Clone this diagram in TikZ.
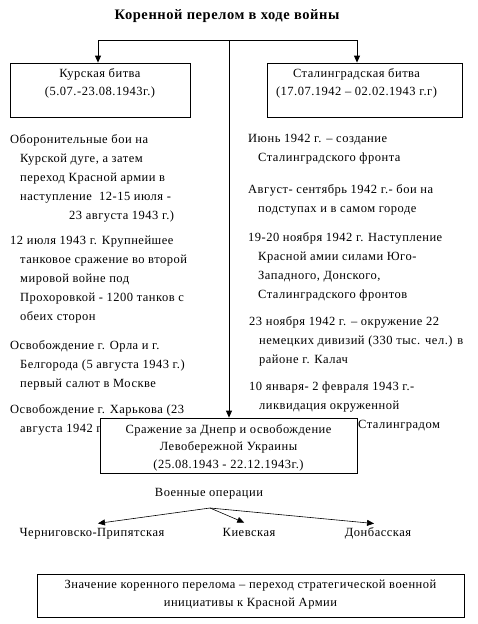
\documentclass[tikz,border=0pt]{standalone}
\usepackage{fontspec}
\setmainfont{Liberation Serif}[LetterSpace=4]
\usetikzlibrary{arrows.meta, positioning}

\newcommand{\ind}{\hspace*{10pt}}

\tikzset{
  box/.style={draw, line width=0.8pt, fill=white, inner sep=0pt},
  boxtext/.style={align=center, inner sep=0pt, font=\fontsize{12.5}{17.5}\selectfont},
  fact/.style={anchor=north west, align=left, inner sep=0pt, font=\fontsize{12.5}{19}\selectfont},
  opname/.style={anchor=base, inner sep=0pt, text height=12pt, font=\fontsize{12.5}{15}\selectfont},
  link/.style={line width=0.8pt, -{Triangle[width=6pt,length=7pt]}},
}

\begin{document}
\begin{tikzpicture}[x=1pt, y=-1pt]
  \useasboundingbox (0,0) rectangle (478,624);

  \node[font=\fontsize{14.5}{17}\selectfont\bfseries] (title) at (227,16) {Коренной перелом в ходе войны};

  % main branches
  \coordinate (forkL) at (98,40);
  \coordinate (fork) at (229,40);
  \coordinate (forkR) at (357,40);

  \node[box, minimum width=180pt, minimum height=54pt,
    label={[boxtext, anchor=north, yshift=-6pt]north:{Курская битва\\(5.07.-23.08.1943г.)}}]
    (kursk) at (100,90) {};
  \node[box, minimum width=195pt, minimum height=54pt,
    label={[boxtext, anchor=north, yshift=-6pt, xshift=-8pt]north:{Сталинградская битва\\(17.07.1942 – 02.02.1943 г.г)}}]
    (stal) at (364.5,90) {};

  % Курская битва
  \node[fact] (kursk1) at (10,134) {Оборонительные бои на\\\ind Курской дуге, а затем\\\ind переход Красной армии в\\\ind наступление~~12-15 июля -\\\hspace*{59pt}23 августа 1943 г.)};
  \node[fact] (kursk2) at (10,236) {12 июля 1943 г. Крупнейшее\\\ind танковое сражение во второй\\\ind мировой войне под\\\ind Прохоровкой - 1200 танков с\\\ind обеих сторон};
  \node[fact] (kursk3) at (10,340) {Освобождение г. Орла и г.\\\ind Белгорода (5 августа 1943 г.)\\\ind первый салют в Москве};
  \node[fact] (kursk4) at (10,404) {Освобождение г. Харькова (23\\\ind августа 1942 г};

  % Сталинградская битва
  \node[fact] (stal1) at (248,134) {Июнь 1942 г. – создание\\\ind Сталинградского фронта};
  \node[fact] (stal2) at (248,184) {Август- сентябрь 1942 г.- бои на\\\ind подступах и в самом городе};
  \node[fact] (stal3) at (248,232) {19-20 ноября 1942 г. Наступление\\\ind Красной амии силами Юго-\\\ind Западного, Донского,\\\ind Сталинградского фронтов};
  \node[fact] (stal4) at (249,316) {23 ноября 1942 г. – окружение 22\\\ind немецких дивизий (330 тыс. чел.) в\\\ind районе г. Калач};
  \node[fact] (stal5) at (249,382) {10 января- 2 февраля 1943 г.-\\\ind ликвидация окруженной\\\hspace*{109pt}Сталинградом};

  % Днепр
  \node[box, minimum width=257pt, minimum height=55pt,
    label={[boxtext, anchor=center, yshift=-2pt]center:{Сражение за Днепр и освобождение\\Левобережной Украины\\(25.08.1943 - 22.12.1943г.)}}]
    (dnepr) at (228.5,445.5) {};

  \draw[line width=0.8pt] (forkL) -- (forkR);
  \draw[link] (forkL) -- (forkL |- kursk.north);
  \draw[link] (forkR) -- (forkR |- stal.north);
  \draw[link] (fork) -- (fork |- dnepr.north);

  % операции
  \node[font=\fontsize{12.5}{15}\selectfont] (ops) at (209,494) {Военные операции};
  \coordinate (opsfork) at (210,508);
  \node[opname] (cher) at (92,536) {Черниговско-Припятская};
  \node[opname] (kiev) at (249,536) {Киевская};
  \node[opname] (donb) at (378,536) {Донбасская};
  \draw[link, line width=0.6pt, shorten >=3pt] (opsfork) -- ([xshift=3pt]cher.north);
  \draw[link, line width=0.6pt, shorten >=3pt] (opsfork) -- ([xshift=-2pt]kiev.north);
  \draw[link, line width=0.6pt, shorten >=3pt] (opsfork) -- ([xshift=-1pt]donb.north);

  % итог
  \node[box, minimum width=427pt, minimum height=43pt,
    label={[boxtext, anchor=center, yshift=1pt]center:{Значение коренного перелома – переход стратегической военной\\инициативы к Красной Армии}}]
    (result) at (250.5,595.5) {};
\end{tikzpicture}
\end{document}
